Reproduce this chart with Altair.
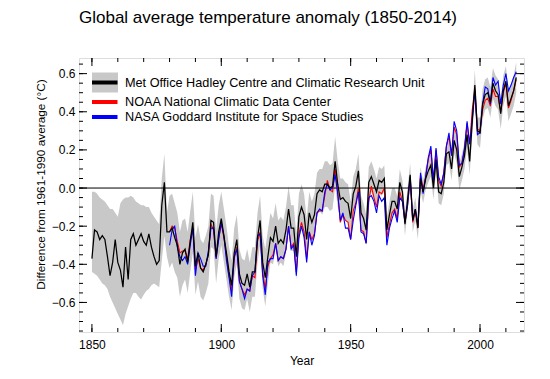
import altair as alt
import pandas as pd

FONT = "Liberation Sans"

# ---------------- data ----------------
had_years = list(range(1850, 2015))
hadcrut = [
    -0.37, -0.22, -0.23, -0.27, -0.25, -0.27, -0.36, -0.46, -0.39, -0.27,
    -0.39, -0.43, -0.52, -0.31, -0.48, -0.27, -0.24, -0.30, -0.27, -0.24,
    -0.28, -0.30, -0.24, -0.31, -0.36, -0.40, -0.38, -0.09, 0.03, -0.23,
    -0.23, -0.21, -0.26, -0.30, -0.40, -0.34, -0.32, -0.39, -0.28, -0.18,
    -0.41, -0.34, -0.42, -0.44, -0.40, -0.35, -0.17, -0.18, -0.36, -0.23,
    -0.16, -0.25, -0.34, -0.44, -0.51, -0.34, -0.27, -0.45, -0.50, -0.51,
    -0.45, -0.52, -0.44, -0.44, -0.26, -0.17, -0.39, -0.47, -0.36, -0.26,
    -0.28, -0.20, -0.29, -0.27, -0.29, -0.22, -0.11, -0.21, -0.21, -0.36,
    -0.15, -0.10, -0.14, -0.27, -0.13, -0.18, -0.14, -0.03, -0.01, -0.02,
    0.02, 0.02, 0.00, 0.01, 0.14, 0.02, -0.06, -0.05, -0.07, -0.08,
    -0.16, -0.03, 0.01, 0.09, -0.13, -0.16, -0.22, 0.03, 0.06, 0.02,
    -0.02, 0.04, 0.03, 0.05, -0.22, -0.14, -0.07, -0.07, -0.11, 0.03,
    -0.02, -0.19, -0.06, 0.07, -0.17, -0.11, -0.21, 0.05, -0.02, 0.05,
    0.09, 0.12, 0.00, 0.15, -0.02, -0.03, 0.03, 0.18, 0.19, 0.10,
    0.25, 0.20, 0.06, 0.11, 0.17, 0.28, 0.14, 0.35, 0.54, 0.30,
    0.29, 0.44, 0.49, 0.50, 0.45, 0.55, 0.51, 0.49, 0.39, 0.51,
    0.56, 0.43, 0.47, 0.51, 0.58,
]
# uncertainty band edges 1850-1879
had_hi_early = [
    -0.02, -0.02, -0.03, -0.05, -0.06, -0.07, -0.09, -0.11, -0.11, -0.13,
    -0.15, -0.08, -0.06, -0.05, -0.05, -0.04, -0.05, -0.07, -0.08, -0.09,
    -0.09, -0.10, -0.10, -0.13, -0.15, -0.17, -0.19, 0.05, 0.18, -0.13,
]
had_lo_early = [
    -0.44, -0.45, -0.46, -0.48, -0.50, -0.51, -0.53, -0.57, -0.60, -0.63,
    -0.66, -0.69, -0.72, -0.66, -0.62, -0.58, -0.55, -0.55, -0.57, -0.585,
    -0.56, -0.54, -0.53, -0.51, -0.50, -0.51, -0.52, -0.38, -0.25, -0.36,
]
# half-width of the uncertainty band 1880-2014
had_unc_late = [
    0.19, 0.18, 0.18, 0.17, 0.17, 0.17, 0.16, 0.16, 0.16, 0.16,
    0.15, 0.15, 0.15, 0.15, 0.15, 0.15, 0.14, 0.14, 0.14, 0.14,
    0.14, 0.14, 0.14, 0.13, 0.13, 0.13, 0.13, 0.13, 0.13, 0.13,
    0.13, 0.13, 0.13, 0.13, 0.13, 0.13, 0.14, 0.15, 0.14, 0.13,
    0.12, 0.12, 0.12, 0.12, 0.12, 0.12, 0.12, 0.12, 0.12, 0.12,
    0.12, 0.12, 0.11, 0.11, 0.11, 0.11, 0.11, 0.11, 0.11, 0.12,
    0.12, 0.12, 0.12, 0.12, 0.13, 0.12, 0.11, 0.10, 0.10, 0.10,
    0.09, 0.09, 0.09, 0.09, 0.09, 0.08, 0.08, 0.08, 0.08, 0.08,
    0.07, 0.07, 0.07, 0.07, 0.07, 0.07, 0.07, 0.07, 0.07, 0.07,
    0.06, 0.06, 0.06, 0.06, 0.06, 0.06, 0.06, 0.06, 0.06, 0.06,
    0.06, 0.06, 0.06, 0.06, 0.06, 0.06, 0.06, 0.06, 0.06, 0.06,
    0.07, 0.07, 0.07, 0.07, 0.07, 0.07, 0.07, 0.07, 0.08, 0.07,
    0.08, 0.08, 0.08, 0.08, 0.08, 0.08, 0.08, 0.08, 0.08, 0.08,
    0.08, 0.08, 0.08, 0.08, 0.08,
]

other_years = list(range(1880, 2015))
noaa = [
    -0.23, -0.20, -0.21, -0.28, -0.34, -0.33, -0.33, -0.37, -0.27, -0.21,
    -0.43, -0.37, -0.42, -0.43, -0.40, -0.35, -0.19, -0.22, -0.37, -0.26,
    -0.19, -0.26, -0.36, -0.46, -0.54, -0.37, -0.31, -0.49, -0.53, -0.56,
    -0.53, -0.54, -0.46, -0.47, -0.28, -0.23, -0.44, -0.53, -0.41, -0.37,
    -0.35, -0.29, -0.38, -0.36, -0.37, -0.32, -0.20, -0.31, -0.29, -0.44,
    -0.24, -0.18, -0.23, -0.37, -0.23, -0.27, -0.24, -0.13, -0.12, -0.12,
    -0.04, 0.04, -0.01, -0.02, 0.10, -0.02, -0.18, -0.14, -0.17, -0.18,
    -0.27, -0.12, -0.08, 0.00, -0.22, -0.23, -0.29, -0.07, 0.01, -0.05,
    -0.10, -0.02, -0.03, 0.00, -0.26, -0.19, -0.13, -0.11, -0.16, -0.02,
    -0.07, -0.18, -0.09, 0.05, -0.18, -0.12, -0.21, 0.07, -0.01, 0.06,
    0.15, 0.20, 0.03, 0.20, 0.04, 0.01, 0.08, 0.22, 0.27, 0.17,
    0.32, 0.28, 0.11, 0.13, 0.20, 0.34, 0.23, 0.41, 0.52, 0.31,
    0.30, 0.41, 0.46, 0.47, 0.43, 0.52, 0.48, 0.48, 0.40, 0.50,
    0.55, 0.42, 0.46, 0.51, 0.57,
]
nasa = [
    -0.30, -0.22, -0.20, -0.31, -0.36, -0.38, -0.36, -0.40, -0.30, -0.21,
    -0.46, -0.34, -0.37, -0.41, -0.41, -0.33, -0.21, -0.21, -0.37, -0.27,
    -0.18, -0.25, -0.38, -0.47, -0.57, -0.36, -0.32, -0.49, -0.53, -0.58,
    -0.53, -0.54, -0.46, -0.44, -0.25, -0.24, -0.46, -0.56, -0.39, -0.37,
    -0.37, -0.29, -0.38, -0.36, -0.37, -0.32, -0.20, -0.32, -0.30, -0.46,
    -0.26, -0.20, -0.26, -0.39, -0.23, -0.30, -0.25, -0.13, -0.11, -0.12,
    -0.02, 0.02, -0.01, 0.00, 0.07, -0.03, -0.17, -0.13, -0.21, -0.21,
    -0.27, -0.17, -0.09, -0.02, -0.23, -0.24, -0.29, -0.05, -0.04, -0.07,
    -0.13, -0.04, -0.07, -0.05, -0.30, -0.21, -0.16, -0.12, -0.18, -0.05,
    -0.07, -0.18, -0.09, 0.06, -0.17, -0.11, -0.20, 0.08, -0.03, 0.06,
    0.16, 0.22, 0.04, 0.21, 0.06, 0.02, 0.08, 0.22, 0.29, 0.17,
    0.35, 0.30, 0.12, 0.13, 0.21, 0.35, 0.23, 0.36, 0.51, 0.28,
    0.29, 0.44, 0.53, 0.52, 0.44, 0.58, 0.54, 0.56, 0.44, 0.54,
    0.60, 0.51, 0.54, 0.58, 0.61,
]

x_major = [1850, 1900, 1950, 2000]
x_minor = [1850, 1860, 1870, 1880, 1890, 1900, 1910, 1920, 1930, 1940,
           1950, 1960, 1970, 1980, 1990, 2000, 2010]
y_major = [-0.6, -0.4, -0.2, 0.0, 0.2, 0.4, 0.6]
y_minor = [-0.75, -0.7, -0.65, -0.6, -0.55, -0.5, -0.45, -0.4, -0.35, -0.3,
           -0.25, -0.2, -0.15, -0.1, -0.05, 0.0, 0.05, 0.1, 0.15, 0.2, 0.25,
           0.3, 0.35, 0.4, 0.45, 0.5, 0.55, 0.6, 0.65]
zero_line = [0.0]

legend_labels = [
    "Met Office Hadley Centre and Climatic Research Unit",
    "NOAA National Climatic Data Center",
    "NASA Goddard Institute for Space Studies",
]
series_colors = ["#000000", "#ff0000", "#0000ff"]
band_color = "#c8c8c8"
title_text = "Global average temperature anomaly (1850-2014)"

# ---------------- tables ----------------
band_hi = had_hi_early + [round(v + u, 3) for v, u in zip(hadcrut[30:], had_unc_late)]
band_lo = had_lo_early + [round(v - u, 3) for v, u in zip(hadcrut[30:], had_unc_late)]
band_df = pd.DataFrame({"year": had_years, "lo": band_lo, "hi": band_hi})
had_df = pd.DataFrame({"year": had_years, "value": hadcrut})
noaa_df = pd.DataFrame({"year": other_years, "value": noaa})
nasa_df = pd.DataFrame({"year": other_years, "value": nasa})

W, H = 445, 274
xscale = alt.Scale(domain=[1845, 2017], nice=False, zero=False)
yscale = alt.Scale(domain=[-0.755, 0.682], nice=False, zero=False)

xaxis = alt.Axis(values=x_major, format="d", title="Year", ticks=False, tickSize=0,
                 domain=False, grid=False, labelFont=FONT, labelFontSize=12,
                 labelColor="black", labelPadding=12.5, labelBaseline="middle",
                 titleFont=FONT, titleFontSize=12, titleFontWeight="normal",
                 titleColor="black", titleBaseline="middle", titleY=28)
yaxis = alt.Axis(values=y_major, format=".1f", title="Difference from 1961-1990 average (°C)",
                 ticks=False, tickSize=0, domain=False, grid=False, labelFont=FONT,
                 labelFontSize=12, labelColor="black", labelPadding=4,
                 titleFont=FONT, titleFontSize=11.8, titleFontWeight="normal",
                 titleColor="black", titleAngle=270, titleAlign="center",
                 titleBaseline="middle", titleX=-39, titleY=126)


def X(field):
    return alt.X(f"{field}:Q", scale=xscale, axis=xaxis)


def Y(field):
    return alt.Y(f"{field}:Q", scale=yscale, axis=yaxis)


band = alt.Chart(band_df).mark_area(color=band_color, opacity=1, strokeWidth=0).encode(
    x=X("year"), y=Y("lo"), y2="hi:Q")

zero = alt.Chart(pd.DataFrame({"value": zero_line})).mark_rule(
    color="black", strokeWidth=1).encode(y=Y("value"))


def series_line(df, color, width):
    return alt.Chart(df).mark_line(color=color, strokeWidth=width,
                                   strokeJoin="miter").encode(x=X("year"), y=Y("value"))


red = series_line(noaa_df, series_colors[1], 1.1)
blue = series_line(nasa_df, series_colors[2], 1.1)
black = series_line(had_df, series_colors[0], 1.25)

# inward ticks on all four sides
xmaj_df = pd.DataFrame({"year": x_major})
xmin_df = pd.DataFrame({"year": x_minor})
ymaj_df = pd.DataFrame({"value": y_major})
ymin_df = pd.DataFrame({"value": y_minor})

tick_layers = []
for df, ln in [(xmaj_df, 8), (xmin_df, 4)]:
    tick_layers.append(alt.Chart(df).mark_rule(color="black", strokeWidth=1).encode(
        x=X("year"), y=alt.value(H), y2=alt.value(H - ln)))
    tick_layers.append(alt.Chart(df).mark_rule(color="black", strokeWidth=1).encode(
        x=X("year"), y=alt.value(0), y2=alt.value(ln)))
for df, ln in [(ymaj_df, 8), (ymin_df, 4)]:
    tick_layers.append(alt.Chart(df).mark_rule(color="black", strokeWidth=1).encode(
        y=Y("value"), x=alt.value(0), x2=alt.value(ln)))
    tick_layers.append(alt.Chart(df).mark_rule(color="black", strokeWidth=1).encode(
        y=Y("value"), x=alt.value(W), x2=alt.value(W - ln)))

# legend (inside the plot, top-left)
one = pd.DataFrame({"k": [0]})
leg_layers = [
    alt.Chart(one).mark_rect(color=band_color).encode(
        x=alt.value(13), x2=alt.value(39), y=alt.value(14.5), y2=alt.value(34.5))
]
leg_rows = [24.5, 44, 59]
for label, color, yy in zip(legend_labels, series_colors, leg_rows):
    leg_layers.append(alt.Chart(one).mark_rule(color=color, strokeWidth=4).encode(
        x=alt.value(13), x2=alt.value(38.5), y=alt.value(yy)))
    leg_layers.append(alt.Chart(one).mark_text(
        align="left", baseline="middle", font=FONT, fontSize=12.7, color="black").encode(
        x=alt.value(46), y=alt.value(yy), text=alt.value(label)))

chart = alt.layer(band, zero, red, blue, black, *tick_layers, *leg_layers).properties(
    width=W, height=H,
    title=alt.TitleParams(title_text, anchor="start", frame="group", font=FONT,
                          fontSize=17, fontWeight="normal", color="black",
                          baseline="alphabetic", offset=18),
    padding={"left": 71, "top": 50, "right": 10, "bottom": 38},
    autosize=alt.AutoSizeParams(type="none"),
).configure_view(stroke="black", strokeWidth=1).configure(background="white")

chart.save("out.html", embed_options={"renderer": "svg", "actions": False})
